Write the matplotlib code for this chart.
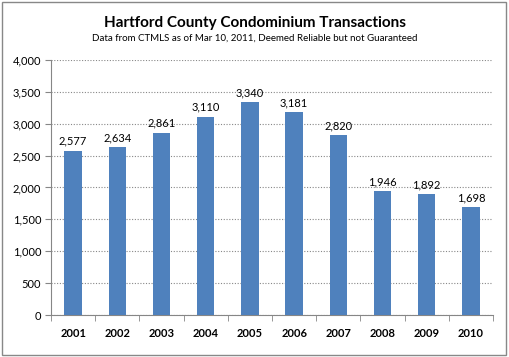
import matplotlib
matplotlib.use("Agg")
import matplotlib.pyplot as plt
from matplotlib.patches import Rectangle

years = ["2001", "2002", "2003", "2004", "2005", "2006", "2007", "2008", "2009", "2010"]
values = [2577, 2634, 2861, 3110, 3340, 3181, 2820, 1946, 1892, 1698]
yticks = [0, 500, 1000, 1500, 2000, 2500, 3000, 3500, 4000]

plt.rcParams['font.family'] = ['Lato', 'DejaVu Sans']

fig = plt.figure(figsize=(5.09, 3.57), dpi=100)
fig.patches.append(Rectangle((0.004, 0.006), 0.99, 0.988, transform=fig.transFigure,
                             fill=False, edgecolor='#888888', linewidth=1.0))
ax = fig.add_axes([0.1002, 0.1176, 0.8684, 0.7144])

x = list(range(len(years)))
bars = ax.bar(x, values, width=0.39, color='#4F81BD', zorder=3)
for xi, v in zip(x, values):
    ax.text(xi, v + 60, f"{v:,}", ha='center', va='bottom', fontsize=8, color='#000000')

ax.set_xlim(-0.5, len(years) - 0.5)
ax.set_ylim(0, 4000)
ax.set_yticks(yticks)
ax.set_yticklabels([f"{t:,}" for t in yticks], fontsize=8)
ax.set_xticks(x)
ax.set_xticklabels(years, fontsize=8, fontweight='bold')
ax.tick_params(axis='x', length=0, pad=9)
ax.set_xticks([i - 0.5 for i in range(len(years) + 1)], minor=True)
ax.tick_params(axis='x', which='minor', length=4, color='#868686', direction='out')
ax.tick_params(axis='y', length=4, color='#868686', direction='out', pad=3)

ax.yaxis.grid(True, linestyle=(0, (1, 1.5)), color='#888888', linewidth=0.8, zorder=0)
for s in ['top', 'right']:
    ax.spines[s].set_visible(False)
for s in ['left', 'bottom']:
    ax.spines[s].set_color('#868686')

fig.text(0.5, 0.935, "Hartford County Condominium Transactions", ha='center', va='center',
         fontsize=11, fontweight='bold')
fig.text(0.5, 0.893, "Data from CTMLS as of Mar 10, 2011, Deemed Reliable but not Guaranteed",
         ha='center', va='center', fontsize=7)

fig.savefig("out.png", dpi=100)
